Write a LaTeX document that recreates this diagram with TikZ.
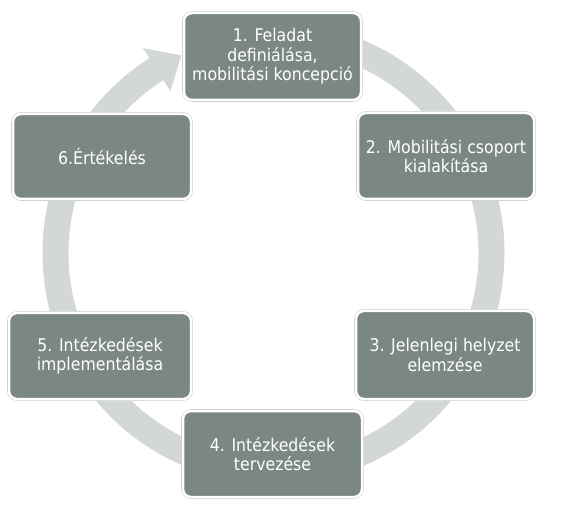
\documentclass[tikz,border=0pt]{standalone}
\usepackage{fontspec}
\setmainfont{DejaVu Sans Condensed}
\definecolor{boxfill}{RGB}{123,135,131}
\definecolor{ringfill}{RGB}{212,215,215}
\definecolor{edgegray}{RGB}{200,204,204}
\begin{document}
\begin{tikzpicture}[x=1pt,y=1pt,
  stagebox/.style={rectangle, rounded corners=8pt, fill=boxfill, draw=white, line width=2.5pt,
    preaction={draw=edgegray, line width=3.6pt},
    text=white, align=center, inner sep=0pt,
    font=\fontsize{17.5}{19.5}\selectfont},
  ringstyle/.style={fill=ringfill}]
\useasboundingbox (0,0) rectangle (567,517);
\begin{scope}[shift={(273.5,264)}]
  \fill[ringstyle] (90:231) arc[start angle=90, end angle=-237.5, radius=231]
    -- (122.5:243) -- (115:218) -- (122.5:192) -- (122.5:205)
    arc[start angle=-237.5, end angle=90, radius=205] -- cycle;
\end{scope}
\node[stagebox, minimum width=177pt, minimum height=87pt] (s1) at (272.5,460.5) {1. Feladat\\definiálása,\\mobilitási koncepció};
\node[stagebox, minimum width=176pt, minimum height=86pt] (s2) at (446,361) {2. Mobilitási csoport\\kialakítása};
\node[stagebox, minimum width=178pt, minimum height=88pt] (s3) at (445,162) {3. Jelenlegi helyzet\\elemzése};
\node[stagebox, minimum width=179pt, minimum height=86pt] (s4) at (272.5,63) {4. Intézkedések\\tervezése};
\node[stagebox, minimum width=182pt, minimum height=86pt] (s5) at (100,161) {5. Intézkedések\\implementálása};
\node[stagebox, minimum width=178pt, minimum height=85pt] (s6) at (102,360.5) {6.Értékelés};
\end{tikzpicture}
\end{document}
